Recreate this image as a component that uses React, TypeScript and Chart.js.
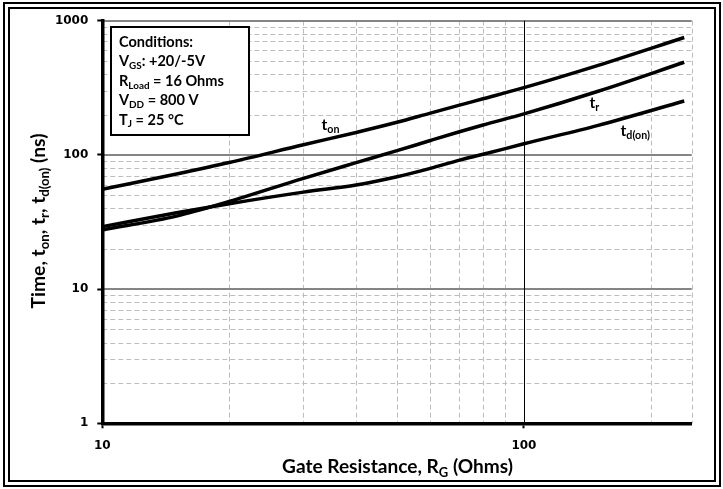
import React, { useEffect, useRef } from 'react';
import { Chart, registerables } from 'chart.js';

Chart.register(...registerables);

// ---- data ----
const R_G = [10, 15, 20, 30, 40, 50, 60, 70, 80, 100, 150, 240];
const T_ON = [55.4, 72.1, 87.8, 119, 147, 175, 205, 234, 262, 317, 465, 750];
const T_R = [27.6, 35, 45, 66.9, 87.5, 107.5, 128, 148, 167, 202, 298, 490];
const T_D_ON = [29.2, 37.1, 43.3, 52.8, 59.7, 68.8, 79.4, 91, 101, 121, 166, 252];

const X_MIN = 10;
const X_MAX = 250;
const Y_MIN = 1;
const Y_MAX = 1000;
const X_TICK_LABELS = [10, 100];
const Y_TICK_LABELS = [1, 10, 100, 1000];

const TITLE_FONT = 'Lato, "Open Sans", sans-serif';
const TICK_FONT = '"DejaVu Sans", Verdana, sans-serif';

type Seg = { t: string; sub?: boolean };

const X_TITLE: Seg[] = [{ t: 'Gate Resistance, R' }, { t: 'G', sub: true }, { t: ' (Ohms)' }];
const Y_TITLE: Seg[] = [
  { t: 'Time, t' }, { t: 'on', sub: true }, { t: ', t' }, { t: 'r', sub: true },
  { t: ', t' }, { t: 'd(on)', sub: true }, { t: ' (ns)' },
];
const CONDITIONS: Seg[][] = [
  [{ t: 'Conditions:' }],
  [{ t: 'V' }, { t: 'GS', sub: true }, { t: ': +20/-5V' }],
  [{ t: 'R' }, { t: 'Load', sub: true }, { t: ' = 16 Ohms' }],
  [{ t: 'V' }, { t: 'DD', sub: true }, { t: ' = 800 V' }],
  [{ t: 'T' }, { t: 'J', sub: true }, { t: ' = 25 °C' }],
];
const LBL_TON: Seg[] = [{ t: 't' }, { t: 'on', sub: true }];
const LBL_TR: Seg[] = [{ t: 't' }, { t: 'r', sub: true }];
const LBL_TDON: Seg[] = [{ t: 't' }, { t: 'd(on)', sub: true }];

function logGrid(min: number, max: number): number[] {
  const out: number[] = [];
  for (let p = Math.pow(10, Math.floor(Math.log10(min))); p <= max; p *= 10) {
    for (let m = 1; m < 10; m++) {
      const v = m * p;
      if (v >= min && v <= max) out.push(v);
    }
  }
  if (out[out.length - 1] !== max) out.push(max);
  return out;
}

const X_GRID = logGrid(X_MIN, X_MAX);
const Y_GRID = logGrid(Y_MIN, Y_MAX);

const SUB_SCALE = 0.68;

function richWidth(ctx: CanvasRenderingContext2D, segs: Seg[], size: number): number {
  let w = 0;
  for (const s of segs) {
    ctx.font = `bold ${s.sub ? size * SUB_SCALE : size}px ${TITLE_FONT}`;
    w += ctx.measureText(s.t).width;
  }
  return w;
}

function fitSize(ctx: CanvasRenderingContext2D, segs: Seg[], target: number): number {
  const w = richWidth(ctx, segs, 20);
  return (20 * target) / w;
}

function drawRich(
  ctx: CanvasRenderingContext2D,
  segs: Seg[],
  x: number,
  y: number,
  size: number,
  align: 'left' | 'center'
) {
  const w = richWidth(ctx, segs, size);
  let cx = align === 'center' ? x - w / 2 : x;
  ctx.textAlign = 'left';
  ctx.textBaseline = 'alphabetic';
  ctx.fillStyle = '#000';
  for (const s of segs) {
    const sz = s.sub ? size * SUB_SCALE : size;
    ctx.font = `bold ${sz}px ${TITLE_FONT}`;
    ctx.fillText(s.t, cx, s.sub ? y + size * 0.2 : y);
    cx += ctx.measureText(s.t).width;
  }
}

const decorPlugin = {
  id: 'decor',
  beforeDraw(chart: any) {
    const ctx = chart.ctx as CanvasRenderingContext2D;
    const { left, right, top, bottom } = chart.chartArea;
    const xs = chart.scales.x;
    const ys = chart.scales.y;
    ctx.save();
    ctx.fillStyle = '#fff';
    ctx.fillRect(0, 0, chart.width, chart.height);
    const line = (x1: number, y1: number, x2: number, y2: number, color: string, w: number, dash: number[]) => {
      ctx.beginPath();
      ctx.setLineDash(dash);
      ctx.strokeStyle = color;
      ctx.lineWidth = w;
      ctx.moveTo(x1, y1);
      ctx.lineTo(x2, y2);
      ctx.stroke();
    };
    // minor grid (dashed)
    Y_GRID.forEach((v) => {
      if (v === Y_MIN || Y_TICK_LABELS.includes(v)) return;
      const y = Math.round(ys.getPixelForValue(v)) + 0.5;
      line(left, y, right, y, '#bdbdbd', 1, [5, 3]);
    });
    X_GRID.forEach((v) => {
      if (v === X_MIN || X_TICK_LABELS.includes(v)) return;
      const x = Math.round(xs.getPixelForValue(v)) + 0.5;
      line(x, top, x, bottom, '#bdbdbd', 1, [5, 3]);
    });
    // major grid (solid)
    Y_GRID.forEach((v) => {
      if (v === Y_MIN || !Y_TICK_LABELS.includes(v)) return;
      const y = Math.round(ys.getPixelForValue(v));
      line(left, y, right, y, '#858585', 2, []);
    });
    X_GRID.forEach((v) => {
      if (v === X_MIN || !X_TICK_LABELS.includes(v)) return;
      const x = Math.round(xs.getPixelForValue(v)) + 0.5;
      line(x, top, x, bottom, '#000', 1, []);
    });
    ctx.restore();
  },
  afterDatasetsDraw(chart: any) {
    const ctx = chart.ctx as CanvasRenderingContext2D;
    ctx.save();
    // conditions box
    ctx.fillStyle = '#fff';
    ctx.fillRect(111, 27, 138, 108);
    ctx.strokeStyle = '#000';
    ctx.lineWidth = 2;
    ctx.strokeRect(111, 27, 138, 108);
    const cSize = fitSize(ctx, CONDITIONS[2], 105);
    const baselines = [46.7, 66.3, 85.8, 105.2, 124.5];
    CONDITIONS.forEach((ln, i) => drawRich(ctx, ln, 119, baselines[i], cSize, 'left'));

    // curve labels
    const lSize = fitSize(ctx, LBL_TDON, 29.5);
    drawRich(ctx, LBL_TON, 321.5, 130, lSize, 'left');
    drawRich(ctx, LBL_TR, 589.5, 107.5, lSize, 'left');
    drawRich(ctx, LBL_TDON, 620.5, 136, lSize, 'left');

    // axis titles
    const xsz = fitSize(ctx, X_TITLE, 231);
    drawRich(ctx, X_TITLE, 397.5, 473, xsz, 'center');
    const ysz = fitSize(ctx, Y_TITLE, 175);
    ctx.save();
    ctx.translate(45, 221);
    ctx.rotate(-Math.PI / 2);
    drawRich(ctx, Y_TITLE, 0, 0, ysz, 'center');
    ctx.restore();

    // double frame
    ctx.strokeStyle = '#000';
    ctx.lineWidth = 2;
    ctx.strokeRect(4, 3, 716, 483);
    ctx.strokeRect(9, 8, 706, 473);
    ctx.restore();
  },
};

export default function App() {
  const ref = useRef<HTMLCanvasElement>(null);
  useEffect(() => {
    document.body.style.margin = '0';
    const canvas = ref.current!;
    const mk = (ys: number[]) => R_G.map((x, i) => ({ x, y: ys[i] }));
    const ds = (data: any) => ({
      data,
      borderColor: '#000',
      borderWidth: 3.5,
      pointRadius: 0,
      fill: false,
      cubicInterpolationMode: 'monotone' as const,
    });
    const chart = new Chart(canvas, {
      type: 'line',
      data: {
        datasets: [ds(mk(T_ON)), ds(mk(T_R)), ds(mk(T_D_ON))],
      },
      plugins: [decorPlugin],
      options: {
        animation: false,
        responsive: false,
        devicePixelRatio: 1,
        layout: { padding: { left: 0, top: 20.7, right: 31.3, bottom: 0 } },
        plugins: { legend: { display: false }, tooltip: { enabled: false } },
        scales: {
          x: {
            type: 'logarithmic',
            min: X_MIN,
            max: X_MAX,
            afterBuildTicks: (s: any) => {
              s.ticks = X_GRID.map((v) => ({ value: v, major: X_TICK_LABELS.includes(v) }));
            },
            afterFit: (s: any) => {
              s.height = 489 - 423.3;
            },
            ticks: {
              autoSkip: false,
              maxRotation: 0,
              padding: 10,
              color: '#000',
              font: { family: TICK_FONT, weight: 'bold', size: 12 },
              callback: (v: any) => (X_TICK_LABELS.includes(Number(v)) ? String(v) : ''),
            },
            grid: {
              drawOnChartArea: false,
              tickLength: 5,
              tickWidth: 2,
              tickColor: (c: any) => (c.tick && c.tick.major ? '#000' : 'rgba(0,0,0,0)'),
            },
            border: { display: true, color: '#000', width: 3.5 },
          },
          y: {
            type: 'logarithmic',
            min: Y_MIN,
            max: Y_MAX,
            afterBuildTicks: (s: any) => {
              s.ticks = Y_GRID.map((v) => ({ value: v, major: Y_TICK_LABELS.includes(v) }));
            },
            afterFit: (s: any) => {
              s.width = 102.3;
            },
            ticks: {
              autoSkip: false,
              padding: 9,
              color: '#000',
              font: { family: TICK_FONT, weight: 'bold', size: 12 },
              callback: (v: any) => (Y_TICK_LABELS.includes(Number(v)) ? String(v) : ''),
            },
            grid: {
              drawOnChartArea: false,
              tickLength: 5,
              tickWidth: 2,
              tickColor: (c: any) => (c.tick && c.tick.major ? '#000' : 'rgba(0,0,0,0)'),
            },
            border: { display: true, color: '#000', width: 3.5 },
          },
        },
      } as any,
    });
    return () => chart.destroy();
  }, []);
  return <canvas ref={ref} width={723} height={489} style={{ display: 'block' }} />;
}
